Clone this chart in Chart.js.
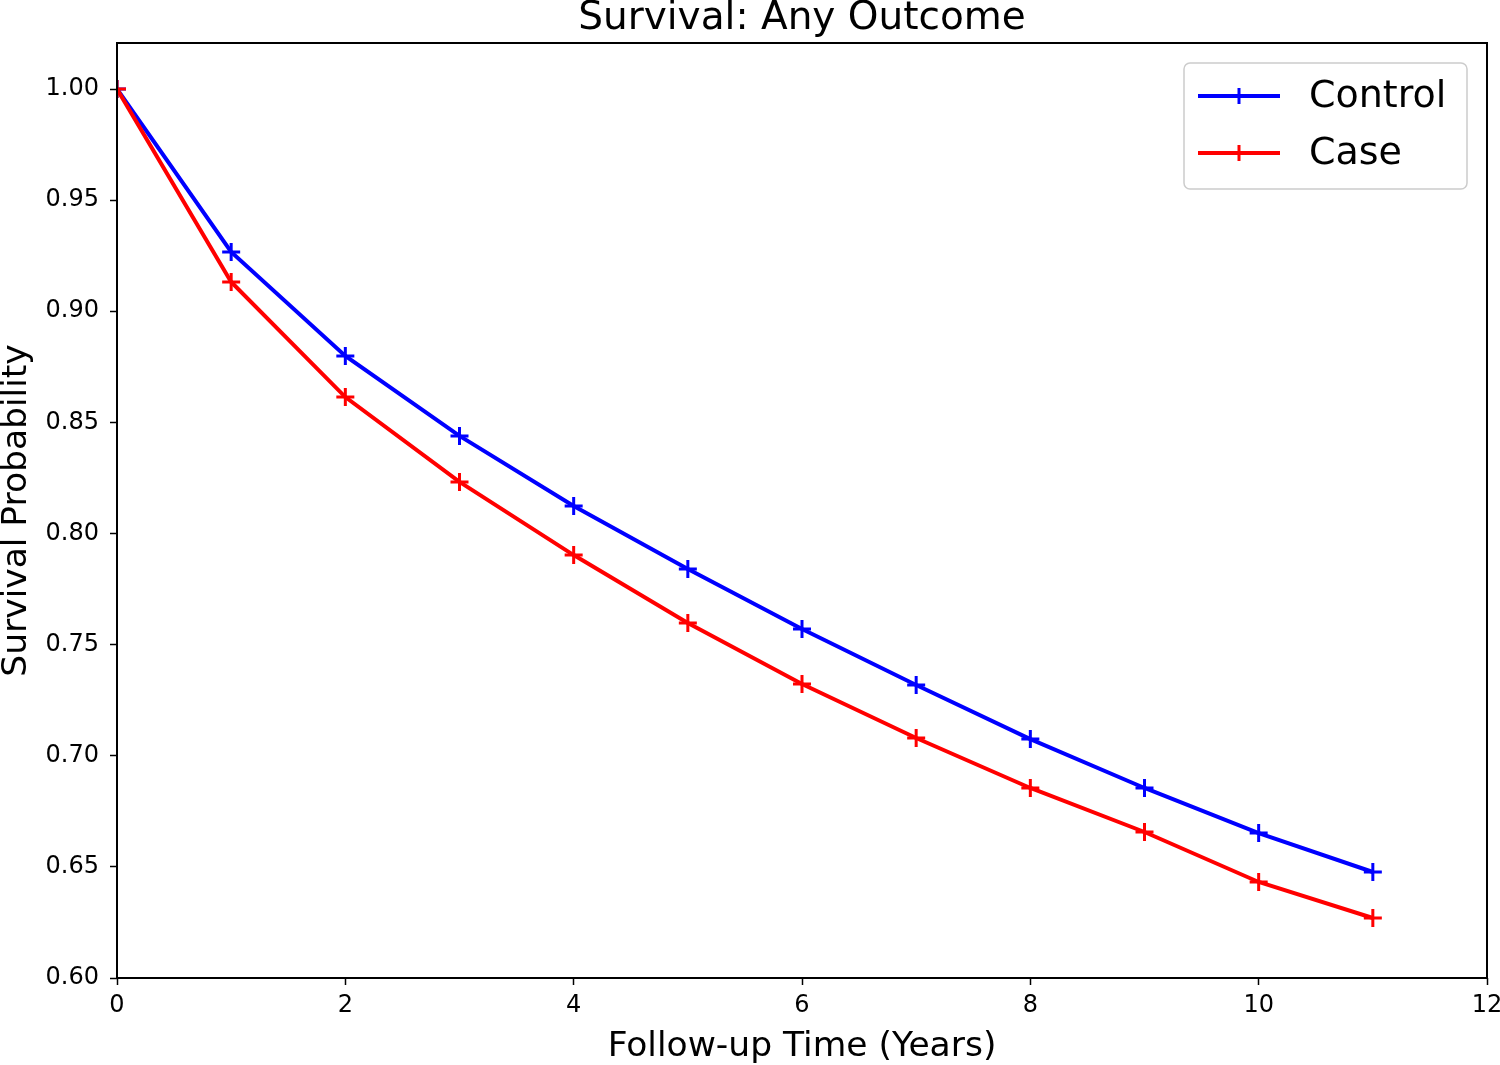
<!DOCTYPE html>
<html>
<head>
<meta charset="utf-8">
<script src="https://cdn.jsdelivr.net/npm/chart.js@4.4.1/dist/chart.umd.min.js"></script>
<style>
  html, body { margin: 0; padding: 0; background: #fff; }
  #wrap { width: 1500px; height: 1065px; }
</style>
</head>
<body>
<div id="wrap"><canvas id="survChart" width="1500" height="1065"></canvas></div>
<script>
// follow-up years and survival estimates
const years = [0, 1, 2, 3, 4, 5, 6, 7, 8, 9, 10, 11];
const controlSurv = [1.000, 0.9267, 0.8799, 0.8439, 0.8124, 0.7840, 0.7570, 0.7318, 0.7075, 0.6855, 0.6652, 0.6477];
const caseSurv    = [1.000, 0.9132, 0.8614, 0.8232, 0.7903, 0.7597, 0.7323, 0.7080, 0.6855, 0.6657, 0.6432, 0.6270];
const xTickValues = [0, 2, 4, 6, 8, 10, 12];
const yTickValues = [0.60, 0.65, 0.70, 0.75, 0.80, 0.85, 0.90, 0.95, 1.00];
const chartTitle = 'Survival: Any Outcome';

const FONT = "'DejaVu Sans', sans-serif";

// title centred over the plot area (not the canvas), like matplotlib
const titlePlugin = {
    id: 'axTitle',
    afterDraw(chart) {
        const { ctx, chartArea: a } = chart;
        ctx.save();
        ctx.fillStyle = '#000';
        ctx.font = `39px ${FONT}`;
        ctx.textAlign = 'center';
        ctx.textBaseline = 'middle';
        ctx.fillText(chartTitle, (a.left + a.right) / 2, a.top - 24);
        ctx.restore();
    }
};

// frame around the axes
const framePlugin = {
    id: 'frame',
    afterDatasetsDraw(chart) {
        const { ctx, chartArea: a } = chart;
        ctx.save();
        ctx.strokeStyle = '#000';
        ctx.lineWidth = 2;
        ctx.strokeRect(a.left, a.top, a.right - a.left, a.bottom - a.top);
        ctx.restore();
    }
};

// legend box with line + cross sample, top right
const legendPlugin = {
    id: 'mplLegend',
    afterDraw(chart) {
        const { ctx, chartArea: a } = chart;
        const boxW = 283, boxH = 126;
        const bx = a.right - 20 - boxW, by = a.top + 20;
        ctx.save();
        ctx.beginPath();
        ctx.roundRect(bx, by, boxW, boxH, 6);
        ctx.fillStyle = 'rgba(255,255,255,0.8)';
        ctx.fill();
        ctx.strokeStyle = '#cccccc';
        ctx.lineWidth = 1.5;
        ctx.stroke();

        chart.data.datasets.forEach((ds, i) => {
            const cy = by + 33 + i * 57;
            const x0 = bx + 14, x1 = bx + 96, mx = (x0 + x1) / 2;
            ctx.strokeStyle = ds.borderColor;
            ctx.lineWidth = 4;
            ctx.beginPath();
            ctx.moveTo(x0, cy); ctx.lineTo(x1, cy);
            ctx.stroke();
            ctx.lineWidth = 3;
            ctx.beginPath();
            ctx.moveTo(mx, cy - 8); ctx.lineTo(mx, cy + 8);
            ctx.stroke();
            ctx.fillStyle = '#000';
            ctx.font = `38px ${FONT}`;
            ctx.textAlign = 'left';
            ctx.textBaseline = 'middle';
            ctx.fillText(ds.label, bx + 125, cy + 1);
        });
        ctx.restore();
    }
};

const toPoints = (arr) => years.map((x, i) => ({ x, y: arr[i] }));

const lineStyle = (color) => ({
    borderColor: color,
    backgroundColor: color,
    borderWidth: 4,
    pointStyle: 'crossRot',
    rotation: 45,
    pointRadius: 9,
    pointBorderWidth: 3,
    tension: 0,
    fill: false
});

new Chart(document.getElementById('survChart'), {
    type: 'line',
    data: {
        datasets: [
            { label: 'Control', data: toPoints(controlSurv), ...lineStyle('#0000ff'), order: 1 },
            { label: 'Case', data: toPoints(caseSurv), ...lineStyle('#ff0000'), order: 0 }
        ]
    },
    options: {
        responsive: false,
        animation: false,
        devicePixelRatio: 1,
        layout: { padding: { top: 43, right: 13, bottom: 0, left: 0 } },
        scales: {
            x: {
                type: 'linear',
                min: 0,
                max: 12,
                afterBuildTicks: s => { s.ticks = xTickValues.map(v => ({ value: v })); },
                afterFit: s => { s.height = 87; s.paddingLeft = 0; s.paddingRight = 0; },
                grid: { display: true, drawOnChartArea: false, drawTicks: true, tickLength: 7, tickColor: '#000', tickWidth: 1.5 },
                border: { display: false },
                ticks: { color: '#000', font: { family: FONT, size: 24 }, padding: 6, maxRotation: 0, callback: v => String(v) },
                title: { display: true, text: 'Follow-up Time (Years)', color: '#000', font: { family: FONT, size: 34.5, lineHeight: 1.0 }, padding: { top: 0, bottom: 1 } }
            },
            y: {
                type: 'linear',
                min: 0.60,
                max: 1.0207,
                afterBuildTicks: s => { s.ticks = yTickValues.map(v => ({ value: v })); },
                afterFit: s => { s.width = 117; s.paddingTop = 0; s.paddingBottom = 0; },
                grid: { display: true, drawOnChartArea: false, drawTicks: true, tickLength: 7, tickColor: '#000', tickWidth: 1.5 },
                border: { display: false },
                ticks: { color: '#000', font: { family: FONT, size: 24 }, padding: 11, callback: v => Number(v).toFixed(2) },
                title: { display: true, text: 'Survival Probability', color: '#000', font: { family: FONT, size: 34.5, lineHeight: 1.0 }, padding: { top: 0, bottom: 0 } }
            }
        },
        plugins: {
            legend: { display: false },
            tooltip: { enabled: false },
            title: { display: false }
        }
    },
    plugins: [titlePlugin, framePlugin, legendPlugin]
});
</script>
</body>
</html>
